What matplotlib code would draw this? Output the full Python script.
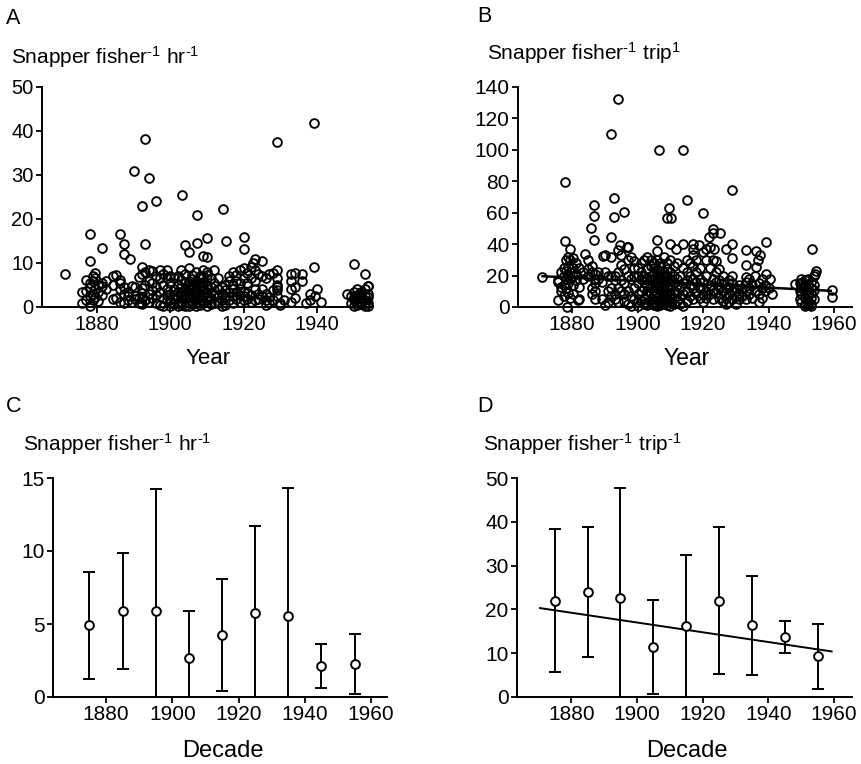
import matplotlib
matplotlib.use("Agg")
import matplotlib.pyplot as plt
import numpy as np

plt.rcParams['font.family'] = ['Liberation Sans', 'DejaVu Sans']
plt.rcParams['mathtext.fontset'] = 'custom'
plt.rcParams['mathtext.rm'] = 'Liberation Sans'
plt.rcParams['mathtext.it'] = 'Liberation Sans'
plt.rcParams['mathtext.bf'] = 'Liberation Sans'

# catch per fisher per hour, individual records (year, value)
hr_year = [
    1871.2, 1878.2, 1878.0, 1881.4, 1886.2, 1887.3, 1887.3, 1889.0, 1890.2, 1892.2,
    1893.1, 1893.1, 1894.3, 1896.1, 1892.2, 1903.1, 1904.0, 1905.2, 1907.2, 1907.2,
    1909.0, 1910.0, 1910.1, 1914.3, 1915.2, 1920.2, 1920.2, 1923.1, 1922.6, 1925.1,
    1929.0, 1939.1, 1939.1, 1950.0, 1953.0, 1953.9,
    1876.0, 1876.0, 1877.0, 1877.0, 1877.0, 1878.0, 1878.0, 1878.0, 1878.0, 1878.8,
    1878.8, 1878.8, 1878.8, 1879.5, 1879.5, 1879.5, 1879.5, 1880.3, 1880.3, 1880.3,
    1881.5, 1881.5, 1881.5, 1882.5, 1882.5, 1884.3, 1884.3, 1884.3, 1885.3, 1885.3,
    1886.3, 1886.3, 1886.3, 1886.3, 1887.3, 1887.3, 1887.3, 1888.5, 1888.5, 1888.5,
    1889.6, 1889.6, 1890.5, 1890.5, 1890.5, 1891.5, 1891.5, 1891.5, 1892.3, 1892.3,
    1892.3, 1892.3, 1892.3, 1893.2, 1893.2, 1893.2, 1894.2, 1894.2, 1894.2, 1894.2,
    1895.1, 1895.1, 1895.1, 1895.1, 1896.1, 1896.1, 1896.1, 1896.1, 1897.1, 1897.1,
    1897.1, 1897.1, 1898.0, 1898.0, 1898.0, 1898.0, 1899.0, 1899.0, 1899.0, 1899.0,
    1899.0, 1900.0, 1900.0, 1900.0, 1900.0, 1900.0, 1901.0, 1901.0, 1901.0, 1901.0,
    1901.0, 1902.0, 1902.0, 1902.0, 1902.0, 1902.0, 1902.0, 1903.0, 1903.0, 1903.0,
    1903.0, 1903.0, 1903.0, 1903.0, 1904.0, 1904.0, 1904.0, 1904.0, 1904.0, 1904.0,
    1904.0, 1905.0, 1905.0, 1905.0, 1905.0, 1905.0, 1905.0, 1905.0, 1905.0, 1906.0,
    1906.0, 1906.0, 1906.0, 1906.0, 1906.0, 1906.0, 1906.0, 1907.0, 1907.0, 1907.0,
    1907.0, 1907.0, 1907.0, 1907.0, 1907.0, 1907.0, 1908.0, 1908.0, 1908.0, 1908.0,
    1908.0, 1908.0, 1908.0, 1908.0, 1909.0, 1909.0, 1909.0, 1909.0, 1909.0, 1909.0,
    1909.0, 1909.0, 1910.0, 1910.0, 1910.0, 1910.0, 1910.0, 1910.0, 1910.0, 1910.0,
    1911.0, 1911.0, 1911.0, 1911.0, 1911.0, 1912.0, 1912.0, 1912.0, 1912.0, 1913.0,
    1913.0, 1913.0, 1913.0, 1914.0, 1914.0, 1914.0, 1914.0, 1915.0, 1915.0, 1915.0,
    1915.0, 1916.0, 1916.0, 1916.0, 1916.0, 1917.0, 1917.0, 1917.0, 1917.0, 1917.0,
    1918.0, 1918.0, 1918.0, 1918.0, 1919.0, 1919.0, 1919.0, 1919.0, 1919.0, 1920.0,
    1920.0, 1920.0, 1920.0, 1920.0, 1921.0, 1921.0, 1921.0, 1921.0, 1922.0, 1922.0,
    1922.0, 1922.0, 1923.0, 1923.0, 1923.0, 1923.0, 1924.0, 1924.0, 1924.0, 1925.0,
    1925.0, 1925.0, 1926.0, 1926.0, 1926.0, 1926.0, 1927.0, 1927.0, 1927.0, 1928.0,
    1928.0, 1928.0, 1929.0, 1929.0, 1929.0, 1929.0, 1929.0, 1929.0, 1930.0, 1930.0,
    1931.0, 1933.0, 1933.0, 1933.0, 1933.0, 1934.0, 1934.0, 1934.0, 1936.0, 1936.0,
    1937.0, 1938.0, 1938.0, 1939.5, 1940.0, 1941.0, 1948.3, 1949.3, 1949.3, 1950.0,
    1950.0, 1950.0, 1950.0, 1951.0, 1951.0, 1951.0, 1951.0, 1951.0, 1952.0, 1952.0,
    1952.0, 1952.0, 1952.0, 1953.0, 1953.0, 1953.0, 1953.0, 1953.0, 1953.8, 1953.8,
    1953.8, 1953.8, 1954.0,
]
hr_value = [
    7.6, 16.7, 10.5, 13.5, 16.7, 14.4, 12.0, 11.0, 31.0, 22.9,
    38.1, 14.4, 29.4, 24.1, 9.1, 25.5, 14.1, 12.5, 20.9, 14.6,
    11.5, 11.4, 15.6, 22.2, 15.0, 16.0, 13.2, 11.0, 9.9, 10.5,
    37.4, 41.9, 9.1, 9.7, 7.4, 4.7,
    3.5, 1.0, 6.2, 3.6, 1.5, 0.2, 4.5, 2.5, 5.5, 7.0,
    3.0, 1.5, 5.8, 6.5, 2.2, 4.0, 7.8, 1.3, 5.0, 3.5,
    4.8, 2.8, 5.5, 4.2, 6.0, 7.0, 1.8, 5.0, 7.3, 2.0,
    6.2, 4.0, 1.2, 5.5, 3.0, 1.0, 4.5, 1.5, 3.5, 2.5,
    4.8, 1.2, 2.5, 4.5, 1.8, 6.8, 2.0, 0.8, 2.0, 4.3,
    7.5, 0.6, 3.2, 1.5, 5.0, 8.0, 8.3, 3.0, 6.0, 1.2,
    5.5, 2.0, 8.2, 3.8, 4.5, 7.0, 1.0, 2.8, 6.5, 3.5,
    0.5, 8.5, 2.0, 5.0, 7.5, 0.3, 8.5, 4.0, 1.5, 6.5,
    2.7, 5.5, 3.0, 0.3, 7.0, 1.5, 4.0, 6.5, 1.8, 0.6,
    2.8, 7.0, 3.5, 1.0, 5.0, 2.2, 0.2, 8.3, 2.5, 4.5,
    6.2, 1.2, 0.5, 3.3, 7.5, 5.5, 3.0, 1.8, 0.3, 4.2,
    2.3, 8.8, 6.0, 4.0, 2.5, 1.0, 0.2, 3.2, 5.0, 7.2,
    5.2, 3.8, 2.0, 0.6, 1.4, 4.5, 6.3, 8.0, 6.0, 4.2,
    2.8, 1.0, 0.3, 3.5, 5.3, 1.8, 7.0, 5.5, 3.0, 1.5,
    0.4, 2.3, 4.6, 6.5, 8.5, 6.8, 4.8, 2.5, 0.8, 3.8,
    1.2, 5.7, 8.0, 7.2, 5.0, 3.2, 1.5, 0.2, 2.4, 4.2,
    6.5, 4.5, 2.0, 0.6, 3.3, 8.3, 5.5, 3.0, 1.0, 6.5,
    2.2, 0.8, 4.0, 4.5, 1.5, 3.0, 0.3, 5.0, 2.5, 0.5,
    3.8, 6.0, 3.5, 1.5, 7.0, 8.0, 5.0, 2.5, 0.8, 4.0,
    7.2, 3.5, 1.8, 6.0, 8.5, 5.5, 2.8, 1.2, 4.2, 8.8,
    6.5, 3.5, 1.5, 2.5, 7.8, 3.2, 1.8, 5.5, 9.0, 6.5,
    2.8, 1.2, 8.5, 4.0, 1.5, 6.0, 7.5, 3.0, 1.8, 7.0,
    4.0, 2.5, 6.5, 1.5, 0.5, 3.0, 7.5, 2.2, 0.8, 7.8,
    3.8, 1.5, 8.3, 6.5, 5.0, 3.8, 2.5, 4.5, 1.0, 0.5,
    1.5, 7.5, 6.0, 4.0, 1.2, 7.8, 4.5, 2.0, 7.5, 6.0,
    0.8, 3.0, 1.5, 2.5, 4.0, 1.2, 3.0, 0.8, 2.5, 1.5,
    3.5, 0.3, 2.2, 4.0, 2.8, 1.0, 0.4, 1.8, 3.5, 2.0,
    0.6, 1.2, 3.0, 2.5, 0.3, 1.5, 4.0, 0.8, 3.0, 1.0,
    2.3, 0.2, 4.8,
]

# catch per fisher per trip, individual records (year, value)
trip_year = [
    1870.7, 1877.8, 1877.8, 1878.5, 1875.6, 1881.7, 1883.9, 1885.8, 1886.8, 1886.8,
    1886.8, 1889.6, 1892.0, 1892.0, 1892.9, 1892.9, 1894.0, 1895.9, 1894.7, 1896.9,
    1906.7, 1905.9, 1905.9, 1908.9, 1910.2, 1909.7, 1909.9, 1911.9, 1914.0, 1915.0,
    1914.0, 1916.9, 1917.0, 1918.9, 1920.1, 1920.9, 1921.9, 1923.0, 1923.1, 1923.4,
    1925.2, 1927.0, 1929.0, 1929.0, 1929.0, 1929.0, 1933.1, 1933.1, 1933.1, 1936.1,
    1937.4, 1936.9, 1936.1, 1939.2, 1939.2, 1940.4, 1941.2, 1948.0, 1953.3, 1954.4,
    1954.1, 1959.5, 1959.5, 1951.6, 1951.0,
    1875.6, 1875.6, 1876.5, 1876.5, 1876.5, 1877.5, 1877.5, 1877.5, 1877.5, 1878.2,
    1878.2, 1878.2, 1878.2, 1878.8, 1878.8, 1878.8, 1878.8, 1878.8, 1879.5, 1879.5,
    1879.5, 1879.5, 1879.5, 1880.3, 1880.3, 1880.3, 1880.3, 1880.3, 1881.2, 1881.2,
    1881.2, 1882.2, 1882.2, 1882.2, 1883.5, 1883.5, 1884.8, 1884.8, 1884.8, 1886.0,
    1886.0, 1886.0, 1886.0, 1887.0, 1887.0, 1887.0, 1887.0, 1887.0, 1888.0, 1888.0,
    1889.0, 1889.0, 1890.0, 1890.0, 1890.0, 1891.0, 1891.0, 1891.0, 1892.0, 1892.0,
    1892.0, 1892.0, 1893.0, 1893.0, 1893.0, 1893.0, 1894.0, 1894.0, 1894.0, 1894.0,
    1895.0, 1895.0, 1895.0, 1895.0, 1896.0, 1896.0, 1896.0, 1896.0, 1897.0, 1897.0,
    1897.0, 1897.0, 1897.0, 1898.0, 1898.0, 1898.0, 1898.0, 1899.0, 1899.0, 1899.0,
    1899.0, 1899.0, 1900.0, 1900.0, 1900.0, 1900.0, 1900.0, 1900.0, 1901.0, 1901.0,
    1901.0, 1901.0, 1901.0, 1902.0, 1902.0, 1902.0, 1902.0, 1902.0, 1902.0, 1903.0,
    1903.0, 1903.0, 1903.0, 1903.0, 1903.0, 1903.0, 1904.0, 1904.0, 1904.0, 1904.0,
    1904.0, 1904.0, 1904.0, 1904.0, 1905.0, 1905.0, 1905.0, 1905.0, 1905.0, 1905.0,
    1905.0, 1905.0, 1905.0, 1906.0, 1906.0, 1906.0, 1906.0, 1906.0, 1906.0, 1906.0,
    1906.0, 1906.0, 1906.0, 1907.0, 1907.0, 1907.0, 1907.0, 1907.0, 1907.0, 1907.0,
    1907.0, 1907.0, 1907.0, 1908.0, 1908.0, 1908.0, 1908.0, 1908.0, 1908.0, 1908.0,
    1908.0, 1908.0, 1909.0, 1909.0, 1909.0, 1909.0, 1909.0, 1909.0, 1909.0, 1909.0,
    1909.0, 1910.0, 1910.0, 1910.0, 1910.0, 1910.0, 1910.0, 1910.0, 1910.0, 1911.0,
    1911.0, 1911.0, 1911.0, 1911.0, 1911.0, 1912.0, 1912.0, 1912.0, 1912.0, 1912.0,
    1913.0, 1913.0, 1913.0, 1913.0, 1914.0, 1914.0, 1914.0, 1914.0, 1915.0, 1915.0,
    1915.0, 1915.0, 1915.0, 1916.0, 1916.0, 1916.0, 1916.0, 1917.0, 1917.0, 1917.0,
    1917.0, 1917.0, 1918.0, 1918.0, 1918.0, 1918.0, 1919.0, 1919.0, 1919.0, 1919.0,
    1920.0, 1920.0, 1920.0, 1920.0, 1920.0, 1921.0, 1921.0, 1921.0, 1921.0, 1922.0,
    1922.0, 1922.0, 1922.0, 1923.0, 1923.0, 1923.0, 1923.0, 1924.0, 1924.0, 1924.0,
    1924.0, 1925.0, 1925.0, 1925.0, 1925.0, 1926.0, 1926.0, 1926.0, 1926.0, 1927.0,
    1927.0, 1927.0, 1927.0, 1928.0, 1928.0, 1928.0, 1928.0, 1929.0, 1929.0, 1929.0,
    1930.0, 1930.0, 1930.0, 1931.0, 1931.0, 1931.0, 1932.0, 1932.0, 1933.0, 1933.0,
    1933.0, 1934.0, 1934.0, 1934.0, 1935.0, 1935.0, 1936.0, 1936.0, 1937.0, 1937.0,
    1937.0, 1938.0, 1938.0, 1938.0, 1939.0, 1939.0, 1940.0, 1949.5, 1949.5, 1949.5,
    1950.0, 1950.0, 1950.0, 1950.0, 1950.0, 1951.0, 1951.0, 1951.0, 1951.0, 1951.0,
    1951.0, 1952.0, 1952.0, 1952.0, 1952.0, 1952.0, 1952.0, 1953.0, 1953.0, 1953.0,
    1953.0, 1953.0, 1953.0, 1953.8, 1953.8, 1953.8, 1953.8,
]
trip_value = [
    19.1, 79.8, 42.1, 0.0, 4.3, 4.7, 34.0, 50.0, 64.9, 57.9,
    42.6, 32.3, 110.0, 44.3, 69.4, 57.0, 132.3, 60.4, 39.4, 37.9,
    100.0, 42.6, 35.7, 56.4, 56.4, 62.8, 40.0, 36.6, 100.0, 68.0,
    39.8, 37.2, 40.4, 39.4, 60.0, 36.6, 44.3, 49.4, 47.2, 37.2,
    46.8, 37.2, 74.5, 40.0, 30.9, 19.6, 36.2, 26.6, 19.1, 35.7,
    33.0, 29.8, 25.5, 41.5, 21.3, 18.1, 8.5, 14.5, 36.6, 23.0,
    20.9, 10.6, 6.4, 17.4, 13.2,
    17.0, 16.0, 22.0, 10.0, 13.0, 14.0, 20.0, 7.0, 25.0, 30.0,
    18.0, 12.0, 23.0, 32.0, 26.0, 15.0, 20.0, 9.0, 30.0, 37.0,
    22.0, 6.0, 18.0, 31.0, 25.0, 8.0, 14.0, 20.0, 21.0, 17.0,
    28.0, 25.0, 13.0, 5.0, 22.0, 18.0, 30.0, 20.0, 24.0, 22.0,
    12.0, 8.0, 26.0, 5.0, 21.0, 10.0, 15.0, 18.0, 22.0, 18.0,
    16.0, 5.0, 22.0, 1.5, 33.0, 20.0, 10.0, 3.0, 32.0, 20.0,
    12.0, 7.0, 20.0, 5.0, 8.0, 17.0, 36.0, 12.0, 3.0, 22.0,
    33.0, 27.0, 10.0, 17.0, 15.0, 4.0, 8.0, 24.0, 38.0, 20.0,
    10.0, 2.0, 30.0, 18.0, 32.0, 7.0, 0.5, 25.0, 12.0, 5.0,
    20.0, 29.0, 15.0, 25.0, 3.0, 8.0, 20.0, 0.5, 28.0, 18.0,
    10.0, 4.0, 22.0, 20.0, 12.0, 30.0, 6.0, 2.0, 16.0, 24.0,
    14.0, 8.0, 18.0, 32.0, 1.0, 10.0, 26.0, 20.0, 12.0, 5.0,
    17.0, 9.0, 2.0, 30.0, 28.0, 22.0, 15.0, 8.0, 3.0, 18.0,
    11.0, 1.0, 25.0, 30.0, 24.0, 18.0, 12.0, 6.0, 2.0, 15.0,
    9.0, 21.0, 0.5, 26.0, 20.0, 14.0, 8.0, 4.0, 11.0, 17.0,
    1.0, 23.0, 28.0, 32.0, 22.0, 16.0, 10.0, 5.0, 2.0, 13.0,
    19.0, 7.0, 28.0, 20.0, 13.0, 6.0, 1.0, 9.0, 16.0, 24.0,
    3.0, 22.0, 14.0, 8.0, 3.0, 11.0, 18.0, 0.5, 30.0, 26.0,
    15.0, 6.0, 2.0, 10.0, 20.0, 18.0, 9.0, 4.0, 14.0, 28.0,
    12.0, 6.0, 20.0, 2.0, 0.5, 8.0, 15.0, 25.0, 22.0, 10.0,
    4.0, 17.0, 30.0, 28.0, 14.0, 7.0, 20.0, 26.0, 12.0, 5.0,
    18.0, 33.0, 30.0, 16.0, 9.0, 22.0, 12.0, 6.0, 25.0, 18.0,
    35.0, 16.0, 8.0, 3.0, 12.0, 30.0, 20.0, 10.0, 6.0, 38.0,
    25.0, 14.0, 8.0, 30.0, 18.0, 11.0, 5.0, 29.0, 16.0, 9.0,
    22.0, 24.0, 13.0, 6.0, 17.0, 20.0, 10.0, 4.0, 15.0, 12.0,
    6.0, 2.0, 9.0, 17.0, 8.0, 3.0, 13.0, 10.0, 5.0, 15.0,
    7.0, 2.0, 12.0, 14.0, 5.0, 9.0, 12.0, 7.0, 16.0, 5.0,
    10.0, 12.0, 18.0, 8.0, 14.0, 6.0, 20.0, 10.0, 3.0, 8.0,
    15.0, 12.0, 6.0, 18.0, 10.0, 14.0, 12.0, 15.0, 10.0, 5.0,
    18.0, 12.0, 8.0, 3.0, 15.0, 17.0, 10.0, 6.0, 2.0, 13.0,
    0.5, 14.0, 8.0, 4.0, 11.0, 1.0, 18.0, 12.0, 6.0, 2.0,
    9.0, 16.0, 0.5, 11.0, 5.0, 20.0, 14.0,
]

# linear trend through the per-trip records
trip_trend_year = [1871, 1959]
trip_trend_value = [19.6, 10.3]

# decadal means and standard deviations
decades = [1875, 1885, 1895, 1905, 1915, 1925, 1935, 1945, 1955]
hr_mean = [4.91, 5.91, 5.91, 2.65, 4.27, 5.78, 5.53, 2.15, 2.26]
hr_sd = [3.67, 3.98, 8.31, 3.22, 3.83, 5.91, 8.81, 1.50, 2.08]
trip_mean = [22.0, 24.0, 22.7, 11.4, 16.1, 22.0, 16.4, 13.6, 9.3]
trip_sd = [16.4, 14.9, 25.1, 10.8, 16.4, 16.7, 11.3, 3.65, 7.4]
decade_trend_year = [1870.5, 1959.3]
decade_trend_value = [20.3, 10.4]

W, H = 861, 764
fig = plt.figure(figsize=(W / 100, H / 100), dpi=100)


def add_axes(x0, x1, y_top, y_bot):
    ax = fig.add_axes([x0 / W, 1 - y_bot / H, (x1 - x0) / W, (y_bot - y_top) / H])
    for s in ['top', 'right']:
        ax.spines[s].set_visible(False)
    for s in ['left', 'bottom']:
        ax.spines[s].set_linewidth(1.4)
    ax.tick_params(width=1.3, length=4.5, direction='out', pad=1.5)
    ax.patch.set_alpha(0)
    return ax


def fig_text(x, y, s, size, ha='left'):
    fig.text(x / W, 1 - y / H, s, fontsize=size, ha=ha, va='center')


# A: per hour records
axA = add_axes(42, 373, 87, 307)
axA.plot(hr_year, hr_value, 'o', mfc='none', mec='black', ms=6.3, mew=1.35,
         clip_on=False)
axA.set_xlim(1865, 1955.3)
axA.set_ylim(0, 50)
axA.set_xticks([1880, 1900, 1920, 1940])
axA.set_yticks([0, 10, 20, 30, 40, 50])
axA.tick_params(labelsize=14.5)

# B: per trip records with trend
axB = add_axes(518, 852, 87, 307)
axB.plot(trip_year, trip_value, 'o', mfc='none', mec='black', ms=6.3, mew=1.35,
         clip_on=False)
axB.plot(trip_trend_year, trip_trend_value, color='black', lw=1.8)
axB.set_xlim(1863.5, 1965.5)
axB.set_ylim(0, 140)
axB.set_xticks([1880, 1900, 1920, 1940, 1960])
axB.set_yticks(np.arange(0, 141, 20))
axB.tick_params(labelsize=15)

# C: decadal per hour
axC = add_axes(53, 387, 478, 697)
axC.errorbar(decades, hr_mean, yerr=hr_sd, fmt='o', color='black', mfc='white',
             mec='black', ms=6.3, mew=1.4, elinewidth=1.4, capsize=4, capthick=1.4)
axC.set_xlim(1864, 1964.8)
axC.set_ylim(0, 15)
axC.set_xticks([1880, 1900, 1920, 1940, 1960])
axC.set_yticks([0, 5, 10, 15])
axC.tick_params(labelsize=15)

# D: decadal per trip with trend
axD = add_axes(517, 852, 478, 697)
axD.plot(decade_trend_year, decade_trend_value, color='black', lw=1.4, zorder=1)
axD.errorbar(decades, trip_mean, yerr=trip_sd, fmt='o', color='black', mfc='white',
             mec='black', ms=6.3, mew=1.4, elinewidth=1.4, capsize=4, capthick=1.4,
             zorder=2)
axD.set_xlim(1863.5, 1965.5)
axD.set_ylim(0, 50)
axD.set_xticks([1880, 1900, 1920, 1940, 1960])
axD.set_yticks([0, 10, 20, 30, 40, 50])
axD.tick_params(labelsize=15)

# panel letters and headings
fig_text(6, 19, 'A', 15.5)
fig_text(477, 17, 'B', 15.5)
fig_text(6, 407, 'C', 15.5)
fig_text(477, 407, 'D', 15.5)

sup = r'$^{\text{-1}}$'
fig_text(11, 57, 'Snapper fisher' + sup + ' hr' + sup, 15)
fig_text(487, 53, 'Snapper fisher' + sup + r' trip$^{\text{1}}$', 15)
fig_text(23, 444, 'Snapper fisher' + sup + ' hr' + sup, 15)
fig_text(483, 444, 'Snapper fisher' + sup + ' trip' + sup, 15)

fig_text(208, 358, 'Year', 16, ha='center')
fig_text(687, 358, 'Year', 16.5, ha='center')
fig_text(223, 751, 'Decade', 17, ha='center')
fig_text(687, 751, 'Decade', 17, ha='center')

fig.savefig('out.png', dpi=100)
